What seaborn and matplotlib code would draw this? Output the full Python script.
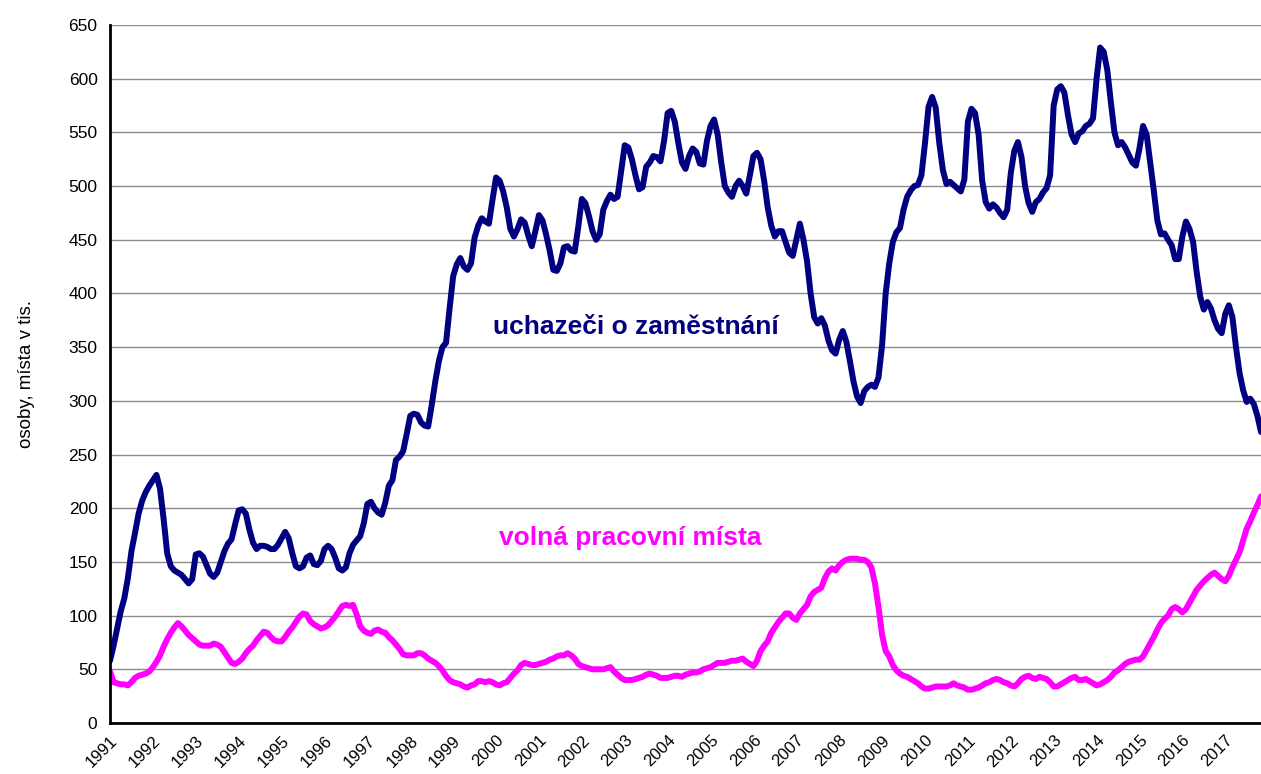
import numpy as np
import pandas as pd
import matplotlib
matplotlib.use("Agg")
import matplotlib.pyplot as plt
import seaborn as sns

years = [str(y) for y in range(1991, 2018)]

# uchazeči o zaměstnání (tis.), monthly Jan 1991 - Nov 2017
uchazeci = [
    58, 72, 88, 104, 116, 135, 160, 177, 195, 207, 215, 221,      # 1991
    226, 231, 218, 190, 158, 146, 142, 140, 138, 134, 130, 134,   # 1992
    157, 158, 155, 147, 139, 136, 140, 150, 160, 167, 171, 185,   # 1993
    198, 199, 195, 180, 168, 162, 165, 165, 164, 162, 162, 166,   # 1994
    172, 178, 172, 158, 146, 144, 146, 154, 156, 148, 147, 151,   # 1995
    162, 165, 162, 154, 144, 142, 145, 158, 166, 170, 174, 186,   # 1996
    204, 206, 200, 196, 194, 205, 221, 226, 245, 248, 253, 269,   # 1997
    286, 288, 287, 280, 277, 276, 296, 318, 337, 350, 354, 386,   # 1998
    416, 427, 433, 425, 422, 428, 452, 463, 470, 467, 465, 487,   # 1999
    508, 505, 495, 480, 460, 453, 460, 469, 466, 454, 444, 458,   # 2000
    473, 468, 455, 440, 422, 421, 428, 443, 444, 440, 439, 462,   # 2001
    488, 484, 472, 458, 450, 455, 478, 486, 492, 488, 490, 514,   # 2002
    538, 536, 525, 510, 497, 499, 518, 522, 528, 527, 523, 542,   # 2003
    568, 570, 560, 540, 522, 516, 528, 535, 532, 521, 520, 542,   # 2004
    556, 562, 548, 522, 500, 494, 490, 500, 505, 500, 493, 510,   # 2005
    528, 531, 525, 505, 480, 463, 453, 458, 458, 448, 438, 435,   # 2006
    450, 465, 450, 430, 400, 378, 372, 377, 370, 356, 347, 344,   # 2007
    357, 365, 355, 337, 318, 304, 298, 309, 313, 315, 313, 322,   # 2008
    352, 400, 428, 448, 457, 461, 478, 490, 496, 500, 501, 510,   # 2009
    540, 574, 583, 573, 540, 515, 502, 504, 501, 498, 495, 506,   # 2010
    560, 572, 568, 548, 505, 485, 479, 483, 480, 475, 471, 478,   # 2011
    512, 533, 541, 527, 500, 484, 476, 485, 488, 494, 498, 510,   # 2012
    575, 590, 593, 587, 566, 548, 541, 549, 551, 556, 558, 563,   # 2013
    600, 629, 625, 608, 578, 550, 538, 541, 536, 529, 522, 519,   # 2014
    535, 556, 548, 522, 496, 468, 455, 456, 450, 445, 432, 432,   # 2015
    453, 467, 460, 448, 420, 397, 385, 392, 386, 375, 367, 363,   # 2016
    381, 389, 378, 350, 326, 310, 299, 302, 297, 286, 271,        # 2017
]

# volná pracovní místa (tis.)
volna_mista = [
    48, 38, 37, 36, 36, 35, 38, 42, 44, 45, 46, 48,               # 1991
    52, 57, 63, 71, 78, 84, 89, 93, 90, 86, 82, 79,               # 1992
    76, 73, 72, 72, 72, 74, 73, 71, 66, 61, 56, 55,               # 1993
    57, 60, 65, 69, 72, 77, 81, 85, 84, 80, 77, 76,               # 1994
    76, 80, 85, 89, 94, 99, 102, 101, 95, 92, 90, 88,             # 1995
    89, 91, 95, 99, 104, 109, 110, 109, 110, 101, 90, 86,         # 1996
    84, 83, 86, 87, 85, 84, 80, 77, 73, 69, 64, 63,               # 1997
    63, 63, 65, 65, 63, 60, 58, 56, 53, 49, 44, 40,               # 1998
    38, 37, 36, 34, 33, 35, 36, 39, 39, 38, 39, 38,               # 1999
    36, 35, 37, 38, 42, 46, 49, 54, 56, 55, 54, 54,               # 2000
    55, 56, 57, 59, 60, 62, 63, 63, 65, 63, 60, 55,               # 2001
    53, 52, 51, 50, 50, 50, 50, 51, 52, 48, 45, 42,               # 2002
    40, 40, 40, 41, 42, 43, 45, 46, 45, 44, 42, 42,               # 2003
    42, 43, 44, 44, 43, 45, 46, 47, 47, 48, 50, 51,               # 2004
    52, 54, 56, 56, 56, 57, 58, 58, 59, 60, 57, 55,               # 2005
    53, 58, 67, 72, 76, 84, 89, 94, 98, 102, 102, 98,             # 2006
    96, 102, 106, 110, 118, 122, 124, 126, 135, 141, 144, 142,    # 2007
    147, 150, 152, 153, 153, 153, 152, 152, 150, 145, 130, 108,   # 2008
    82, 67, 62, 54, 49, 46, 44, 43, 41, 39, 37, 34,               # 2009
    32, 32, 33, 34, 34, 34, 34, 35, 37, 35, 34, 33,               # 2010
    31, 31, 32, 33, 35, 37, 38, 40, 41, 40, 38, 37,               # 2011
    35, 34, 37, 41, 43, 44, 42, 41, 43, 42, 41, 38,               # 2012
    34, 34, 36, 38, 40, 42, 43, 40, 40, 41, 39, 37,               # 2013
    35, 36, 38, 40, 43, 47, 49, 52, 55, 57, 58, 59,               # 2014
    59, 62, 68, 74, 80, 87, 93, 97, 100, 106, 108, 106,           # 2015
    103, 106, 112, 118, 124, 128, 132, 135, 138, 140, 137, 134,   # 2016
    132, 137, 145, 152, 159, 170, 181, 188, 196, 203, 211,        # 2017
]

series_names = ["uchazeči o zaměstnání", "volná pracovní místa"]
colors = {"uchazeči o zaměstnání": "#000080", "volná pracovní místa": "#FF00FF"}

n = len(uchazeci)
df = pd.DataFrame({
    "mesic": list(range(n)) * 2,
    "hodnota": uchazeci + volna_mista,
    "rada": [series_names[0]] * n + [series_names[1]] * n,
})

sns.set_theme(style="white")
plt.rcParams["font.family"] = ["Liberation Sans", "DejaVu Sans"]

fig = plt.figure(figsize=(12.61, 7.74), dpi=100)
ax = fig.add_axes([110 / 1261, (774 - 723) / 774, (1261 - 110) / 1261, (723 - 25) / 774])

sns.lineplot(data=df, x="mesic", y="hodnota", hue="rada", palette=colors,
             linewidth=4.3, legend=False, ax=ax)

ax.set_xlim(0, n - 1)
ax.set_ylim(0, 650)
ax.set_yticks(range(0, 651, 50))
ax.set_xticks(range(0, n, 12))
ax.set_xticklabels(years, rotation=45, ha="right", rotation_mode="anchor")
ax.tick_params(axis="x", length=0, pad=7, labelsize=12, colors="black")
ax.tick_params(axis="y", length=5, width=1, color="#808080", pad=4, labelsize=12.5, labelcolor="black")
ax.set_xlabel("")
ax.set_ylabel("osoby, místa v tis.", fontsize=13.5, labelpad=24, color="black")

ax.grid(axis="y", color="#8c8c8c", linewidth=1)
ax.set_axisbelow(True)
for s in ["top", "right"]:
    ax.spines[s].set_visible(False)
for s in ["left", "bottom"]:
    ax.spines[s].set_color("black")
    ax.spines[s].set_linewidth(2)

ax.text(147, 369, series_names[0], color="#000080", fontsize=19,
        fontweight="bold", ha="center", va="center")
ax.text(145.5, 172, series_names[1], color="#FF00FF", fontsize=19,
        fontweight="bold", ha="center", va="center")

fig.savefig("out.png", dpi=100)
